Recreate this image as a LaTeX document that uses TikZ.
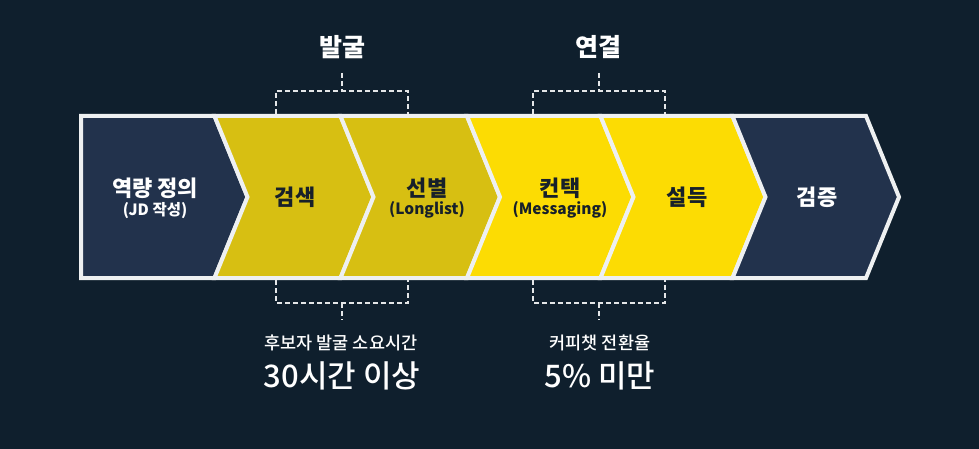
\documentclass[tikz,border=0pt]{standalone}
\usepackage{fontspec}
\setmainfont{Noto Sans CJK KR}
\newfontfamily\krmed{Noto Sans CJK KR}[UprightFont=* Medium]
\usepackage{tikz}

\definecolor{bg}{HTML}{0F1F2D}
\definecolor{navy}{HTML}{22324C}
\definecolor{mustard}{HTML}{D7BF12}
\definecolor{lemon}{HTML}{FCDC03}
\definecolor{frame}{HTML}{EEF0F1}
\definecolor{ink}{HTML}{17202A}
\definecolor{dashgrey}{HTML}{E4E6E8}

\begin{document}
\begin{tikzpicture}[x=1pt,y=-1pt]
\tikzstyle{every node}+=[inner sep=0pt, font=\bfseries]
\tikzstyle{stage}=[line width=4pt, draw=frame, line join=miter]
\tikzstyle{bracket}=[draw=dashgrey, line width=1.6pt, dash pattern=on 5pt off 3pt]
\tikzstyle{big}=[font=\bfseries\fontsize{22}{26}\selectfont]
\tikzstyle{small}=[font=\bfseries\fontsize{15.5}{18}\selectfont]
\fill [bg] (0,0) rectangle (979,449);
\useasboundingbox (0,0) rectangle (979,449);
% stages
\draw [stage, fill=navy] (81,116) -- (214.5,116) -- (247.5,197) -- (214.5,278) -- (81,278) -- cycle;
\draw [stage, fill=mustard] (214.5,116) -- (340.5,116) -- (373.5,197) -- (340.5,278) -- (214.5,278) -- (247.5,197) -- cycle;
\draw [stage, fill=mustard] (340.5,116) -- (467,116) -- (500,197) -- (467,278) -- (340.5,278) -- (373.5,197) -- cycle;
\draw [stage, fill=lemon] (467,116) -- (600.5,116) -- (633.5,197) -- (600.5,278) -- (467,278) -- (500,197) -- cycle;
\draw [stage, fill=lemon] (600.5,116) -- (732.5,116) -- (765.5,197) -- (732.5,278) -- (600.5,278) -- (633.5,197) -- cycle;
\draw [stage, fill=navy] (732.5,116) -- (866,116) -- (899,197) -- (866,278) -- (732.5,278) -- (765.5,197) -- cycle;
% stage labels
\node [big, white] (define) at (155,188) {역량 정의};
\node [small, white] (defsub) at (155,211) {(JD 작성)};
\node [big, ink] (search) at (295,197) {검색};
\node [big, ink] (select) at (427,188) {선별};
\node [small, ink] (selsub) at (427,210) {(Longlist)};
\node [big, ink] (contact) at (560,188) {컨택};
\node [small, ink] (consub) at (560,210) {(Messaging)};
\node [big, ink] (persuade) at (687,197) {설득};
\node [big, white] (verify) at (817,197) {검증};
% groups
\node [white, font=\bfseries\fontsize{25}{29}\selectfont] (dig) at (342,47) {발굴};
\node [white, font=\bfseries\fontsize{25}{29}\selectfont] (link) at (598,47) {연결};
\coordinate (digtop) at (342,73);
\coordinate (digbot) at (342,320);
\coordinate (linktop) at (599,73);
\coordinate (linkbot) at (599,320);
\draw [bracket] (276,114) -- (276,91) -- (408,91) -- (408,114);
\draw [bracket] (digtop) -- (342,91);
\draw [bracket] (276,280) -- (276,303) -- (408,303) -- (408,280);
\draw [bracket] (342,303) -- (digbot);
\draw [bracket] (533,114) -- (533,91) -- (665,91) -- (665,114);
\draw [bracket] (linktop) -- (599,91);
\draw [bracket] (533,280) -- (533,303) -- (665,303) -- (665,280);
\draw [bracket] (599,303) -- (linkbot);
% figures
\node [white, font=\krmed\fontsize{17.5}{20}\selectfont] (digcap) at (341,343) {후보자 발굴 소요시간};
\node [white, font=\krmed\fontsize{31}{35}\selectfont] (digval) at (342,376) {30시간 이상};
\node [white, font=\krmed\fontsize{17.5}{20}\selectfont] (linkcap) at (600,343) {커피챗 전환율};
\node [white, font=\krmed\fontsize{31}{35}\selectfont] (linkval) at (600,376) {5\% 미만};
\end{tikzpicture}
\end{document}
